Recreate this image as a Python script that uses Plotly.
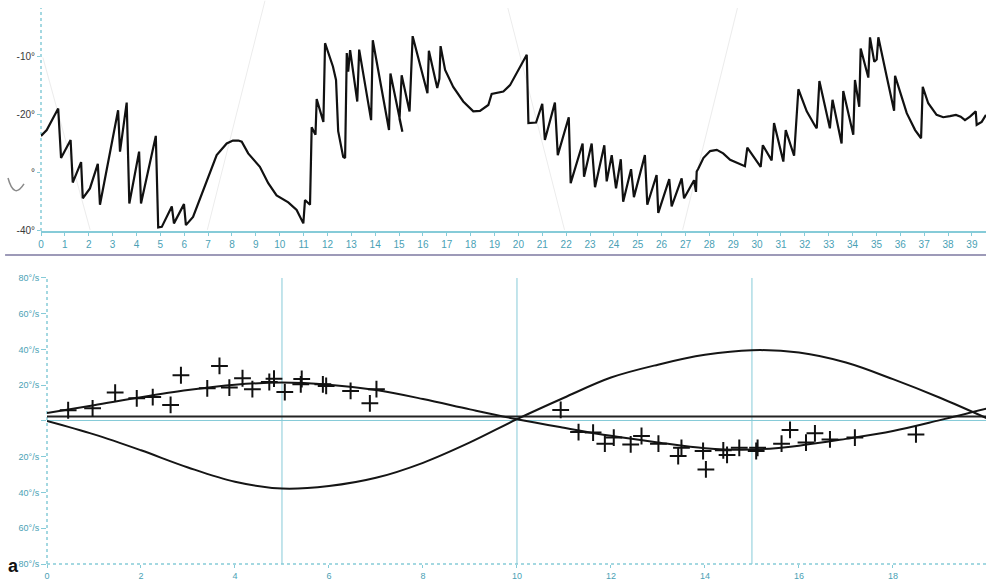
import plotly.graph_objects as go

# ---------------- data: top panel (eye position, degrees vs time s) ----------------
pos_t = [0.0, 0.24, 0.72, 0.84, 1.24, 1.33, 1.68, 1.75, 2.05, 2.38, 2.47, 3.23, 3.31, 3.59, 3.70,
         4.11, 4.19, 4.81, 4.91, 5.06, 5.48, 5.57, 5.99, 6.07, 6.37, 6.79, 7.36, 7.78, 8.04, 8.27,
         8.41, 8.68, 9.17, 9.52, 9.87, 10.36, 10.71, 10.99, 11.06, 11.27, 11.34, 11.50, 11.55, 11.83,
         11.90, 12.23, 12.36, 12.45, 12.66, 12.74, 12.81, 12.87, 12.95, 13.25, 13.33, 13.83, 13.90,
         14.58, 14.64, 15.14, 15.02, 15.11, 15.44, 15.57, 16.19, 16.25, 16.60, 16.69, 16.74, 16.93,
         17.27, 17.69, 18.11, 18.39, 18.74, 18.88, 19.09, 19.37, 19.65, 20.07, 20.35, 20.42, 20.74,
         21.00, 21.11, 21.53, 21.65, 22.11, 22.19, 22.69, 22.75, 23.07, 23.21, 23.60, 23.70, 23.91,
         24.09, 24.29, 24.39, 24.72, 24.84, 25.30, 25.40, 25.79, 25.86, 26.32, 26.42, 26.84, 26.94,
         27.36, 27.44, 27.47, 27.54, 27.75, 28.03, 28.31, 28.58, 28.87, 29.21, 29.49, 29.59, 30.15,
         30.24, 30.61, 30.71, 31.10, 31.20, 31.55, 31.73, 32.08, 32.43, 32.50, 32.61, 33.05, 33.16,
         33.54, 33.61, 34.03, 34.10, 34.28, 34.34, 34.66, 34.73, 34.91, 35.01, 35.08, 35.43, 35.74,
         35.78, 36.27, 36.62, 36.87, 36.94, 37.17, 37.52, 37.80, 38.08, 38.33, 38.53, 38.71, 38.92,
         39.16, 39.20, 39.41, 39.59]
pos_deg = [-23.7, -22.7, -19.0, -27.5, -24.4, -31.7, -28.2, -34.4, -32.7, -28.5, -35.5, -19.3, -26.4,
           -18.0, -35.3, -26.4, -35.3, -23.7, -39.4, -39.3, -35.8, -38.7, -35.4, -39.0, -37.6, -33.0,
           -27.0, -25.0, -24.5, -24.5, -24.7, -26.7, -29.0, -31.8, -33.9, -35.1, -36.4, -38.7, -34.7,
           -35.5, -22.2, -23.5, -17.4, -21.3, -7.8, -11.8, -14.1, -22.9, -27.3, -27.5, -9.5, -12.7,
           -9.0, -17.8, -8.9, -21.0, -7.3, -22.7, -13.0, -23.0, -20.8, -13.3, -19.5, -6.6, -16.4,
           -9.1, -15.5, -13.9, -8.3, -12.4, -15.3, -17.8, -19.5, -19.4, -18.4, -16.5, -16.3, -16.1,
           -15.0, -11.8, -9.8, -21.5, -21.4, -18.2, -24.4, -18.0, -27.0, -20.5, -31.8, -25.0, -30.7,
           -25.0, -32.5, -25.3, -31.5, -27.0, -32.7, -27.7, -35.0, -29.4, -34.2, -27.0, -35.5, -30.4,
           -36.9, -31.1, -35.8, -31.0, -34.4, -31.3, -33.3, -29.8, -29.3, -27.5, -26.3, -26.1, -26.7,
           -27.8, -28.4, -28.9, -25.7, -29.0, -25.3, -27.9, -21.5, -28.1, -22.7, -27.1, -15.7, -19.5,
           -22.0, -22.4, -14.3, -22.4, -17.5, -25.0, -16.0, -23.5, -14.1, -18.7, -8.7, -13.7, -6.8,
           -11.0, -10.6, -6.8, -13.5, -19.4, -13.4, -19.8, -22.7, -24.1, -15.3, -18.1, -20.1, -20.5,
           -20.3, -20.1, -20.4, -21.0, -20.4, -19.5, -21.8, -21.3, -20.1]
top_ticks = list(range(0, 40))
top_yticks = [-40, -30, -20, -10]
top_yticklabels = ["-40°", "°", "-20°", "-10°"]

# ---------------- data: bottom panel (slow-phase velocity, °/s vs time s) ----------------
fit_t = list(range(0, 21))
fit_a = [4.5, 8.8, 13.3, 17.3, 20.3, 21.5, 20.3, 17.3, 12.3, 6.5, 1.0, -3.8, -8.3, -12.0, -15.2,
         -16.0, -13.8, -10.0, -5.6, 0.5, 7.0]
fit_b = [0.0, -7.5, -16.4, -26.0, -34.0, -37.8, -36.4, -31.8, -23.4, -12.0, 1.0, 13.0, 24.3, 31.5,
         37.0, 39.6, 38.3, 32.7, 23.4, 13.0, 1.5]
base_t = [0, 20]
base_v = [2.5, 2.5]
spv_t = [0.45, 0.97, 1.45, 1.91, 2.25, 2.63, 2.85, 3.41, 3.67, 3.88, 4.16, 4.37, 4.73, 4.83, 5.06,
         5.42, 5.40, 5.87, 5.94, 6.46, 6.87, 7.01, 10.93, 11.31, 11.62, 11.87, 12.06, 12.42, 12.65,
         13.01, 13.43, 13.50, 13.96, 14.02, 14.39, 14.47, 14.73, 15.09, 15.12, 15.63, 15.81, 16.15,
         16.34, 16.66, 17.19, 18.49]
spv_v = [6.0, 7.1, 15.9, 12.7, 13.4, 9.0, 25.6, 18.3, 30.8, 18.7, 23.9, 17.8, 21.8, 23.7, 16.2,
         23.5, 20.5, 20.5, 19.6, 16.8, 9.9, 17.8, 6.2, -6.2, -6.5, -12.7, -9.3, -13.1, -8.4, -12.7,
         -19.6, -15.0, -16.8, -27.1, -16.4, -19.0, -15.0, -16.8, -15.0, -12.7, -5.0, -12.1, -6.9,
         -10.3, -9.3, -7.5]
bot_xticks = list(range(0, 20, 2))
bot_yticks = [-80, -60, -40, -20, 0, 20, 40, 60, 80]
bot_yticklabels = ["80°/s", "60°/s", "40°/s", "20°/s", "", "20°/s", "40°/s", "60°/s", "80°/s"]
marker_times = [5, 10, 15]

TEAL_LINE = "#86cbd8"
TEAL_TEXT = "#4a9fb5"
FONT = "Liberation Sans, Arial, sans-serif"

fig = go.Figure()
fig.add_trace(go.Scatter(x=pos_t, y=pos_deg, mode="lines", xaxis="x", yaxis="y",
                         line=dict(color="#111111", width=2.2), showlegend=False))
fig.add_trace(go.Scatter(x=base_t, y=base_v, mode="lines", xaxis="x2", yaxis="y2",
                         line=dict(color="#222222", width=2), showlegend=False))
fig.add_trace(go.Scatter(x=fit_t, y=fit_a, mode="lines", xaxis="x2", yaxis="y2",
                         line=dict(color="#151515", width=2, shape="spline"), showlegend=False))
fig.add_trace(go.Scatter(x=fit_t, y=fit_b, mode="lines", xaxis="x2", yaxis="y2",
                         line=dict(color="#151515", width=2, shape="spline"), showlegend=False))
fig.add_trace(go.Scatter(x=spv_t, y=spv_v, mode="markers", xaxis="x2", yaxis="y2",
                         marker=dict(symbol="cross-thin", size=12, color="#111111",
                                     line=dict(color="#111111", width=2)),
                         showlegend=False))

shapes = []
# top y axis (dotted)
shapes.append(dict(type="line", xref="x domain", yref="y domain", x0=0, x1=0, y0=0, y1=1,
                   line=dict(color=TEAL_LINE, width=1.5, dash="dot"), layer="below"))
# bottom y axis and x axis (dotted)
shapes.append(dict(type="line", xref="x2 domain", yref="y2 domain", x0=0, x1=0, y0=0, y1=1,
                   line=dict(color=TEAL_LINE, width=1.5, dash="dot"), layer="below"))
shapes.append(dict(type="line", xref="x2 domain", yref="y2 domain", x0=0, x1=1, y0=0, y1=0,
                   line=dict(color=TEAL_LINE, width=1.5, dash="dot"), layer="below"))
# vertical reference lines
for mt in marker_times:
    shapes.append(dict(type="line", xref="x2", yref="y2 domain", x0=mt, x1=mt, y0=0, y1=1,
                       line=dict(color=TEAL_LINE, width=1), layer="below"))
# separator between panels
shapes.append(dict(type="line", xref="paper", yref="paper", x0=-0.038, x1=1, y0=0.5558, y1=0.5558,
                   line=dict(color="#9d9ab8", width=2)))
# faint scan streaks in top panel
for (xa, ya, xb, yb) in [(0.002, 0.911, 0.052, 0.601), (0.237, 1.013, 0.176, 0.601),
                         (0.494, 1.0, 0.554, 0.601), (0.737, 1.0, 0.679, 0.601)]:
    shapes.append(dict(type="line", xref="paper", yref="paper", x0=xa, y0=ya, x1=xb, y1=yb,
                       line=dict(color="#ececec", width=1), layer="below"))
# smudge near the top-left axis
shapes.append(dict(type="path", xref="paper", yref="paper",
                   path="M -0.0349,0.6942 Q -0.0286,0.655 -0.018,0.6835",
                   line=dict(color="#8a8a8a", width=1.5)))

fig.update_layout(
    width=986, height=581,
    margin=dict(l=41, r=0, t=8, b=17),
    paper_bgcolor="white", plot_bgcolor="white",
    font=dict(family=FONT),
    shapes=shapes,
    xaxis=dict(domain=[0, 1], range=[0, 39.59], anchor="y",
               tickvals=top_ticks, ticktext=[str(v) for v in top_ticks],
               tickfont=dict(size=10, color=TEAL_TEXT), ticks="outside", ticklen=3,
               tickcolor=TEAL_LINE, showline=True, linecolor=TEAL_LINE, linewidth=1.5,
               showgrid=False, zeroline=False),
    yaxis=dict(domain=[0.599, 1], range=[-40, -1.77], anchor="x",
               tickvals=top_yticks, ticktext=top_yticklabels,
               tickfont=dict(size=10, color="#3a3a3a"), ticks="outside", ticklen=3,
               tickcolor=TEAL_LINE, showline=False, showgrid=False, zeroline=False),
    xaxis2=dict(domain=[0.00635, 1], range=[0, 19.98], anchor="y2",
                tickvals=bot_xticks, ticktext=[str(v) for v in bot_xticks],
                tickfont=dict(size=9, color=TEAL_TEXT), ticks="outside", ticklen=3,
                tickcolor=TEAL_LINE, showline=False, showgrid=False, zeroline=False),
    yaxis2=dict(domain=[0, 0.5144], range=[-80, 80], anchor="x2",
                tickvals=bot_yticks, ticktext=bot_yticklabels,
                tickfont=dict(size=9, color=TEAL_TEXT), ticks="outside", ticklen=5,
                tickcolor=TEAL_LINE, showline=False, showgrid=False,
                zeroline=True, zerolinecolor=TEAL_LINE, zerolinewidth=1),
    annotations=[dict(text="<b>a</b>", xref="paper", yref="paper", x=-0.0286, y=-0.004,
                      xanchor="center", yanchor="middle", showarrow=False,
                      font=dict(size=18, color="#111111", family=FONT))],
)

fig.write_html("out.html", config={"displayModeBar": False},
               post_script="document.body.style.margin='0';document.body.style.overflow='hidden';")
